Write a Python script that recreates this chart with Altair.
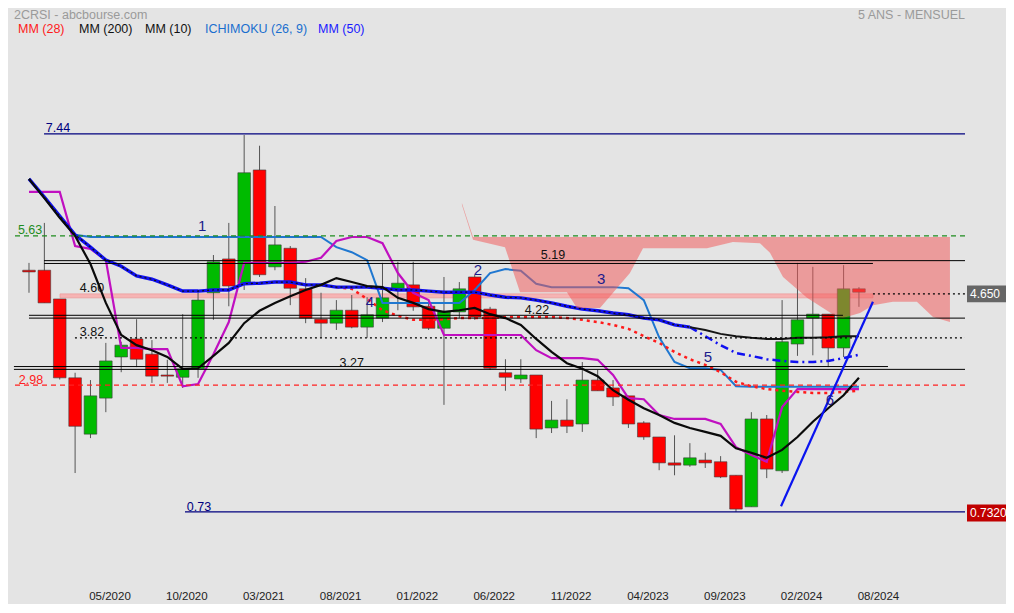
import altair as alt
import pandas as pd

# ---------------- data ----------------
opens  = [5.02, 5.02, 4.51, 3.11, 2.11, 2.75, 3.48, 3.80, 3.53, 3.16,
          3.12, 3.27, 4.62, 5.22, 4.79, 6.80, 5.08, 5.41, 4.69, 4.15,
          4.08, 4.31, 4.01, 4.17, 4.70, 4.76, 4.38, 3.99, 4.28, 4.90,
          4.33, 3.20, 3.09, 3.16, 2.22, 2.36, 2.29, 3.07, 2.93, 2.79,
          2.31, 2.06, 1.60, 1.56, 1.65, 1.62, 1.38, 0.82, 2.38, 1.46,
          3.71, 4.17, 4.24, 3.64, 4.69]
highs  = [5.15, 5.86, 4.51, 3.20, 3.07, 3.73, 3.75, 4.15, 3.78, 3.43,
          4.24, 4.63, 5.29, 5.86, 7.42, 7.23, 6.16, 5.45, 4.88, 4.62,
          4.49, 4.58, 4.54, 5.15, 5.17, 5.17, 4.49, 4.90, 4.81, 4.94,
          4.37, 3.44, 3.44, 3.16, 2.70, 2.73, 3.39, 3.25, 3.07, 2.79,
          2.34, 2.06, 2.09, 1.95, 1.78, 1.72, 1.38, 2.50, 2.45, 4.49,
          5.15, 5.08, 4.24, 5.11, 4.72]
lows   = [4.62, 4.44, 3.08, 1.42, 2.04, 2.50, 3.21, 3.30, 3.02, 3.02,
          2.93, 3.11, 4.14, 4.38, 4.67, 4.90, 5.02, 4.40, 4.08, 3.82,
          3.96, 3.99, 3.82, 4.10, 4.31, 4.30, 3.96, 2.63, 4.17, 4.14,
          3.25, 2.88, 3.02, 2.04, 2.13, 2.13, 2.15, 2.88, 2.61, 2.22,
          2.01, 1.47, 1.38, 1.53, 1.51, 1.33, 0.73, 0.82, 1.33, 1.42,
          3.50, 3.51, 3.30, 3.48, 4.37]
closes = [4.99, 4.44, 3.11, 2.25, 2.79, 3.41, 3.69, 3.44, 3.14, 3.14,
          3.27, 4.49, 5.17, 4.74, 6.75, 4.94, 5.47, 4.70, 4.17, 4.08,
          4.31, 4.01, 4.23, 4.53, 4.79, 4.37, 3.99, 4.28, 4.69, 4.19,
          3.28, 3.12, 3.16, 2.20, 2.36, 2.25, 3.07, 2.88, 2.77, 2.29,
          2.06, 1.60, 1.56, 1.69, 1.60, 1.35, 0.78, 2.38, 1.49, 3.75,
          4.14, 4.24, 3.64, 4.69, 4.63]

mm10 = [6.64, 6.30, 5.95, 5.63, 5.13, 4.44, 3.87, 3.69, 3.60, 3.48,
        3.27, 3.28, 3.50, 3.73, 4.08, 4.30, 4.44, 4.56, 4.67, 4.76,
        4.88, 4.81, 4.74, 4.72, 4.53, 4.44, 4.33, 4.28, 4.31, 4.35,
        4.24, 4.17, 4.05, 3.80, 3.57, 3.37, 3.27, 3.14, 2.89, 2.72,
        2.57, 2.45, 2.31, 2.22, 2.15, 2.08, 1.86, 1.78, 1.69, 1.83,
        2.06, 2.33, 2.57, 2.80, 3.11]
mm50_main = [6.64, 6.32, 5.98, 5.65, 5.43, 5.20, 5.09, 4.92, 4.86, 4.76,
             4.65, 4.65, 4.67, 4.67, 4.78, 4.79, 4.81, 4.81, 4.76, 4.76,
             4.72, 4.72, 4.72, 4.70, 4.67, 4.67, 4.65, 4.63, 4.63, 4.63,
             4.58, 4.54, 4.53, 4.49, 4.44, 4.38, 4.33, 4.30, 4.26, 4.23,
             4.17, 4.14, 4.05, 4.01]          # months 0..43
mm200_tail = [4.01, 3.96, 3.89, 3.85, 3.82, 3.80, 3.80, 3.82, 3.82, 3.83, 3.85, 3.85]  # 43..54
mm50_tail  = [4.01, 3.85, 3.69, 3.55, 3.50, 3.44, 3.41, 3.39, 3.39, 3.41, 3.46, 3.52]  # 43..54
mm28 = [4.72, 4.69, 4.51, 4.31, 4.21, 4.14, 4.14, 4.15, 4.17, 4.17,
        4.17, 4.19, 4.19, 4.19, 4.19, 4.17, 4.14, 4.10, 4.05, 3.98,
        3.85, 3.73, 3.57, 3.44, 3.34, 3.21, 3.04, 2.96, 2.91, 2.88,
        2.86, 2.84, 2.84, 2.86, 2.88]       # months 20..54
kijun = ([6.64, 6.32, 5.98, 5.65] + [5.61] * 16 + [5.43, 5.34, 5.20] + [4.44] * 6 +
         [4.67, 4.97, 5.04, 5.01] + [4.78] + [4.72] * 5 +
         [4.70, 4.49, 3.83, 3.39, 3.28, 3.28, 3.25, 2.96] + [2.95] * 8)
tenkan = [6.41, 6.41, 6.41, 5.45, 5.40, 5.20, 3.64, 3.64, 3.62, 3.62,
          2.96, 3.00, 3.53, 4.10, 5.15, 5.15, 5.15, 5.15, 5.17, 5.24,
          5.54, 5.61, 5.61, 5.50, 4.97, 4.62, 4.49, 3.87, 3.87, 3.87,
          3.87, 3.87, 3.87, 3.60, 3.46, 3.46, 3.46, 3.43, 3.16, 2.75,
          2.73, 2.45, 2.38, 2.38, 2.38, 2.29, 1.88, 1.74, 1.62, 2.59,
          2.91, 2.91, 2.91, 2.91, 2.91]

cloud_i   = [28.17, 28.89, 30.97, 31.95, 35.0, 35.65, 37.15, 39.1, 39.95, 44.11,
             45.8, 47.56, 48.21, 49.06, 50.62, 52.57, 52.96, 54.07, 54.91, 56.21,
             57.77, 58.82, 59.92]
cloud_top = [6.21, 5.61, 5.61, 5.61, 5.61, 5.61, 5.61, 5.61, 5.61, 5.61,
             5.61, 5.61, 5.61, 5.61, 5.61, 5.61, 5.61, 5.61, 5.61, 5.61,
             5.61, 5.61, 5.61]
cloud_bot = [6.18, 5.56, 5.43, 4.63, 4.63, 4.35, 4.35, 4.97, 5.41, 5.41,
             5.52, 5.50, 5.33, 4.90, 4.53, 4.19, 4.17, 4.26, 4.40, 4.46,
             4.46, 4.19, 4.10]

# horizontal levels: value, start month, end month
lvl_navy   = [(7.44, 0.98, 60.9), (0.73, 10.15, 60.9)]
lvl_black  = [(5.19, 0.98, 60.9), (5.14, 0.98, 54.91), (4.22, 0.0, 52.96),
              (4.17, 0.0, 60.9), (3.31, -0.98, 55.89), (3.26, -0.98, 60.9)]
lvl_green  = [(5.63, -0.91, 60.9)]
lvl_red    = [(2.98, -0.91, 60.9)]
lvl_dotted = [(3.82, 2.99, 60.9), (4.60, 54.91, 60.9)]
band = [(4.53, 4.60, 2.02, 54.91)]
trend_i = [48.93, 54.91]
trend_v = [0.83, 4.46]

ann_text = ['7.44', '0.73', '5.63', '2.98', '5.19', '4.22', '3.27', '3.82', '4.60']
ann_i    = [1.89, 11.06, 0.07, 0.13, 34.09, 33.05, 21.0, 4.1, 4.1]
ann_v    = [7.54, 0.82, 5.73, 3.07, 5.29, 4.31, 3.37, 3.92, 4.70]
ann_col  = ['#00007F', '#00007F', '#1E8C1E', '#FF2020', '#111111', '#111111',
            '#111111', '#111111', '#111111']
num_text = ['1', '2', '3', '4', '5', '6']
num_i    = [11.26, 29.21, 37.22, 22.19, 44.18, 52.11]
num_v    = [5.80, 5.02, 4.86, 4.46, 3.48, 2.72]

xtick_pos = [5.27, 10.27, 15.27, 20.27, 25.27, 30.27, 35.27, 40.27, 45.27, 50.27, 55.27]
xtick_lab = ['05/2020', '10/2020', '03/2021', '08/2021', '01/2022', '06/2022',
             '11/2022', '04/2023', '09/2023', '02/2024', '08/2024']
ytick_vals = [0, 1.4, 2.1, 2.8, 3.5, 4.2, 4.9, 5.6, 6.3, 7.0, 7.7, 8.4, 9.1]

tags_text = ['4.650', '0.7320']
tags_v    = [4.60, 0.71]
tags_fill = ['#666666', '#C00000']

header_left = '2CRSI - abcbourse.com'
header_right = '5 ANS - MENSUEL'
legend_text = ['MM (28)', 'MM (200)', 'MM (10)', 'ICHIMOKU (26, 9)', 'MM (50)']
legend_col  = ['#FF1A1A', '#111111', '#111111', '#1A6FCF', '#1A1AFF']
legend_px   = [10, 71, 137, 197, 310]

# ---------------- chart ----------------
W, H = 957, 572
FONT = 'Liberation Sans, Arial, sans-serif'
xs = alt.Scale(domain=[-1.366, 60.9], nice=False, zero=False)
ys = alt.Scale(domain=[-0.479, 9.675], nice=False, zero=False)


def X(f, axis=None):
    return alt.X(f + ':Q', scale=xs, axis=axis, title=None)


def Y(f, axis=None):
    return alt.Y(f + ':Q', scale=ys, axis=axis, title=None)


cd = pd.DataFrame({'i': list(range(len(opens))), 'o': opens, 'h': highs, 'l': lows, 'c': closes})
cd['top'] = cd[['o', 'c']].max(axis=1)
cd['bot'] = cd[['o', 'c']].min(axis=1)
cd['col'] = ['#00BB00' if c > o else '#FF0000' for o, c in zip(opens, closes)]
cd['x1'] = cd['i'] - 0.41
cd['x2'] = cd['i'] + 0.41

y_axis = alt.Axis(orient='right', values=ytick_vals,
                  labelExpr="datum.value == 0 ? '0' : format(datum.value, '.3f')",
                  domain=False, ticks=False, grid=False, labelPadding=5, labelOffset=-3,
                  labelFontSize=12, labelFont=FONT, labelColor='#222222', labelAlign='left',
                  labelOverlap=False, labelFlush=False)

layers = []

# axes carrier (invisible)
layers.append(alt.Chart(cd).mark_point(opacity=0).encode(x=X('i'), y=Y('c', y_axis)))

# x tick labels
xd = pd.DataFrame({'p': xtick_pos, 't': xtick_lab})
layers.append(alt.Chart(xd).mark_text(fontSize=11.5, font=FONT, color='#222222', baseline='middle')
              .encode(x=X('p'), y=alt.value(H + 17), text='t:N'))

# pink band
bd = pd.DataFrame(band, columns=['lo', 'hi', 'a', 'b'])
layers.append(alt.Chart(bd).mark_rect(fill='#F6B4B4', stroke='#EE9A9A', strokeWidth=0.8)
              .encode(x=X('a'), x2='b', y=Y('lo'), y2='hi'))

# candles
layers.append(alt.Chart(cd).mark_rule(color='#555555', strokeWidth=1).encode(x=X('i'), y=Y('l'), y2='h'))
layers.append(alt.Chart(cd).mark_rect(stroke='#3C3C3C', strokeWidth=0.6)
              .encode(x=X('x1'), x2='x2', y=Y('bot'), y2='top', color=alt.Color('col:N', scale=None)))


def line_df(start, vals):
    return pd.DataFrame({'i': list(range(start, start + len(vals))), 'v': vals})


def line(df, **kw):
    return alt.Chart(df).mark_line(**kw).encode(x=X('i'), y=Y('v'))


layers.append(line(line_df(0, kijun), color='#1F77D0', strokeWidth=2))
layers.append(line(line_df(0, tenkan), color='#C010C0', strokeWidth=2.2))
layers.append(line(line_df(20, mm28), color='#FF1A1A', strokeWidth=2.5, strokeDash=[3, 4]))
layers.append(line(line_df(0, mm50_main), color='#1010F0', strokeWidth=3.4))
layers.append(line(line_df(0, mm50_main), color='#111111', strokeWidth=1.3, strokeDash=[2, 3]))
layers.append(line(line_df(43, mm50_tail), color='#1010F0', strokeWidth=2.5, strokeDash=[8, 4, 2, 4]))
layers.append(line(line_df(43, mm200_tail), color='#151515', strokeWidth=2))
layers.append(line(line_df(0, mm10), color='#0A0A0A', strokeWidth=2.2))

# ichimoku cloud
cl = pd.DataFrame({'i': cloud_i, 'top': cloud_top, 'bot': cloud_bot})
layers.append(alt.Chart(cl).mark_area(color='#F25858', opacity=0.52)
              .encode(x=X('i'), y=Y('top'), y2='bot'))


def levels(lst, **kw):
    df = pd.DataFrame(lst, columns=['v', 'a', 'b'])
    return alt.Chart(df).mark_rule(**kw).encode(x=X('a'), x2='b', y=Y('v'))


layers.append(levels(lvl_navy, color='#00007F', strokeWidth=1.2))
layers.append(levels(lvl_black, color='#000000', strokeWidth=1))
layers.append(levels(lvl_green, color='#1E8C1E', strokeWidth=1.2, strokeDash=[5, 4]))
layers.append(levels(lvl_red, color='#FF2020', strokeWidth=1.2, strokeDash=[5, 4]))
layers.append(levels(lvl_dotted, color='#000000', strokeWidth=1.2, strokeDash=[2, 3]))

# trend line
layers.append(line(pd.DataFrame({'i': trend_i, 'v': trend_v}), color='#0A14F0', strokeWidth=2.2))

# annotations
ad = pd.DataFrame({'i': ann_i, 'v': ann_v, 't': ann_text, 'col': ann_col})
layers.append(alt.Chart(ad).mark_text(fontSize=12.5, font=FONT)
              .encode(x=X('i'), y=Y('v'), text='t:N', color=alt.Color('col:N', scale=None)))
nd = pd.DataFrame({'i': num_i, 'v': num_v, 't': num_text})
layers.append(alt.Chart(nd).mark_text(fontSize=15, font=FONT, color='#1C1C8C')
              .encode(x=X('i'), y=Y('v'), text='t:N'))

# price tags on the right
td = pd.DataFrame({'v': tags_v, 't': tags_text, 'f': tags_fill})
td['lo'] = td['v'] - 0.15
td['hi'] = td['v'] + 0.15
layers.append(alt.Chart(td).mark_rect().encode(x=alt.value(959), x2=alt.value(1010), y=Y('lo'), y2='hi',
                                                 color=alt.Color('f:N', scale=None)))
layers.append(alt.Chart(td).mark_text(align='left', fontSize=12, font=FONT, color='white')
              .encode(x=alt.value(962), y=Y('v'), text='t:N'))

# header and legend
one = pd.DataFrame({'k': [0]})
layers.append(alt.Chart(one).mark_text(align='left', baseline='middle', fontSize=12.5, font=FONT, color='#9A9A9A')
              .encode(x=alt.value(6), y=alt.value(7), text=alt.value(header_left)))
layers.append(alt.Chart(one).mark_text(align='right', baseline='middle', fontSize=12.5, font=FONT, color='#9A9A9A')
              .encode(x=alt.value(957), y=alt.value(7), text=alt.value(header_right)))
for t, c, px in zip(legend_text, legend_col, legend_px):
    layers.append(alt.Chart(one).mark_text(align='left', baseline='middle', fontSize=12.5, font=FONT, color=c)
                  .encode(x=alt.value(px), y=alt.value(21), text=alt.value(t)))

chart = alt.layer(*layers).properties(
    width=W, height=H,
    autosize=alt.AutoSizeParams(type='none'),
    padding={'left': 0, 'top': 0, 'right': 41, 'bottom': 24},
    background='#E4E4E4',
).configure_view(stroke=None)

chart.save('out.html', embed_options={'renderer': 'svg', 'actions': False})
